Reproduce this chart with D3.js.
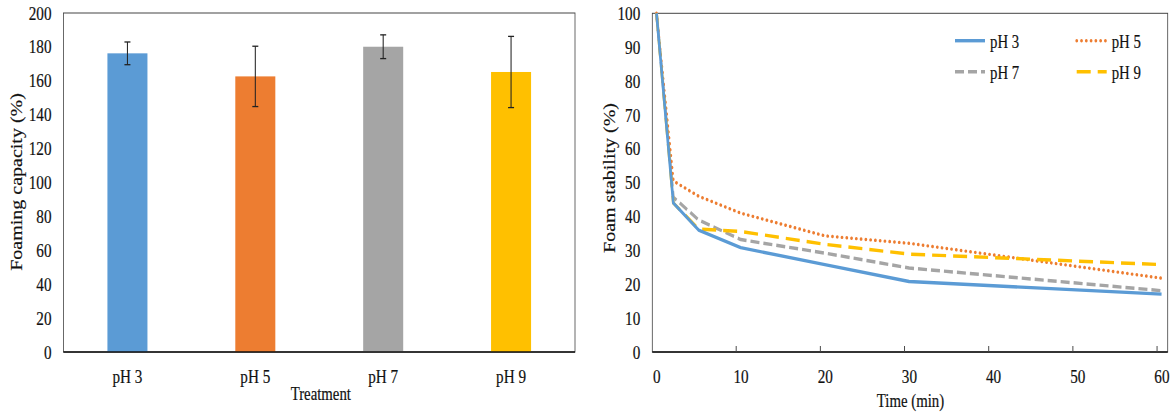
<!DOCTYPE html>
<html>
<head>
<meta charset="utf-8">
<script src="https://cdn.jsdelivr.net/npm/d3@7"></script>
<style>
  body { margin: 0; background: #fff; }
  text { font-family: "Liberation Serif", "Times New Roman", serif; fill: #111; stroke: #111; stroke-width: 0.2px; }
</style>
</head>
<body>
<div id="chart"></div>
<script>
// data
var treatments = ["pH 3", "pH 5", "pH 7", "pH 9"];
var capacity = [176.2, 162.6, 180.1, 165.2];
var capacityErr = [6.7, 17.8, 7.0, 21.0];
var barColors = ["#5B9BD5", "#ED7D31", "#A5A5A5", "#FFC000"];

var times = [0, 2, 5, 10, 20, 30, 60];
var ph3 = [100, 44.0, 36.0, 30.8, 25.8, 20.8, 17.1];
var ph5 = [100, 50.5, 46.0, 41.0, 34.3, 32.1, 21.8];
var ph7 = [100, 45.7, 39.0, 33.2, 29.2, 24.8, 18.1];
var ph9 = [100, 44.0, 36.3, 35.6, 31.8, 28.9, 25.8];
var seriesNames = ["pH 3", "pH 5", "pH 7", "pH 9"];
var seriesColors = ["#5B9BD5", "#ED7D31", "#A5A5A5", "#FFC000"];

var yTicksLeft = [0, 20, 40, 60, 80, 100, 120, 140, 160, 180, 200];
var yTicksRight = [0, 10, 20, 30, 40, 50, 60, 70, 80, 90, 100];
var xTicksRight = [0, 10, 20, 30, 40, 50, 60];

var width = 1176;
var height = 417;
var sx = 0.8; // the picture is squeezed horizontally
function px(x) { return x / sx; }
var fontSize = 18.5;
var tickSize = 19;
var titleSize = 20;

var svg = d3.select("#chart")
  .append("svg")
  .attr("width", width)
  .attr("height", height);

svg.append("rect").attr("width", width).attr("height", height).attr("fill", "#fff");

var root = svg.append("g").attr("transform", "scale(" + sx + ",1)");

/* --- LEFT: foaming capacity bars --- */
var left = { x0: 63.5, x1: 575, top: 13, bottom: 352 };

var xL = d3.scaleBand()
  .domain(treatments)
  .range([px(left.x0), px(left.x1)])
  .paddingInner(0.687)
  .paddingOuter(0.3435);

var yL = d3.scaleLinear()
  .domain([0, 200])
  .range([left.bottom, left.top]);

root.append("rect")
  .attr("x", px(left.x0))
  .attr("y", left.top)
  .attr("width", px(left.x1) - px(left.x0))
  .attr("height", left.bottom - left.top)
  .attr("fill", "none")
  .attr("stroke", "#444")
  .attr("stroke-width", 1);

root.selectAll(".bar")
  .data(treatments)
  .enter()
  .append("rect")
  .attr("class", "bar")
  .attr("x", function (d) { return xL(d); })
  .attr("width", xL.bandwidth())
  .attr("y", function (d, i) { return yL(capacity[i]); })
  .attr("height", function (d, i) { return left.bottom - yL(capacity[i]); })
  .attr("fill", function (d, i) { return barColors[i]; });

// error bars
var err = root.selectAll(".err")
  .data(treatments)
  .enter()
  .append("g")
  .attr("class", "err")
  .attr("stroke", "#222")
  .attr("stroke-width", 1.3);

err.append("line")
  .attr("x1", function (d) { return xL(d) + xL.bandwidth() / 2; })
  .attr("x2", function (d) { return xL(d) + xL.bandwidth() / 2; })
  .attr("y1", function (d, i) { return yL(capacity[i] + capacityErr[i]); })
  .attr("y2", function (d, i) { return yL(capacity[i] - capacityErr[i]); });

[1, -1].forEach(function (s) {
  err.append("line")
    .attr("x1", function (d) { return xL(d) + xL.bandwidth() / 2 - px(3); })
    .attr("x2", function (d) { return xL(d) + xL.bandwidth() / 2 + px(3); })
    .attr("y1", function (d, i) { return yL(capacity[i] + s * capacityErr[i]); })
    .attr("y2", function (d, i) { return yL(capacity[i] + s * capacityErr[i]); });
});

root.append("line")
  .attr("x1", px(left.x0)).attr("x2", px(left.x1))
  .attr("y1", left.bottom).attr("y2", left.bottom)
  .attr("stroke", "#111").attr("stroke-width", 1.3);

var yaxisL = d3.axisLeft(yL).tickValues(yTicksLeft).tickSize(0).tickPadding(px(12));
var gyL = root.append("g")
  .attr("transform", "translate(" + px(left.x0) + ",0)")
  .call(yaxisL);

var xaxisL = d3.axisBottom(xL).tickSize(0).tickPadding(18);
var gxL = root.append("g")
  .attr("transform", "translate(0," + left.bottom + ")")
  .call(xaxisL);

root.append("text")
  .attr("x", px(320.8))
  .attr("y", 400)
  .attr("text-anchor", "middle")
  .text("Treatment");

root.append("text")
  .attr("transform", "translate(" + px(22.4) + ",182) rotate(-90)")
  .attr("text-anchor", "middle")
  .attr("font-size", titleSize)
  .text("Foaming capacity (%)");

/* --- RIGHT: foam stability lines --- */
var right = { x0: 652.3, x1: 1167.7, top: 13.3, bottom: 352 };

var xR = d3.scaleLinear()
  .domain([-0.5, 60.73])
  .range([px(right.x0), px(right.x1)]);

var yR = d3.scaleLinear()
  .domain([0, 100])
  .range([right.bottom, right.top]);

root.append("rect")
  .attr("x", px(right.x0))
  .attr("y", right.top)
  .attr("width", px(right.x1) - px(right.x0))
  .attr("height", right.bottom - right.top)
  .attr("fill", "none")
  .attr("stroke", "#444")
  .attr("stroke-width", 1);

root.append("line")
  .attr("x1", px(right.x0)).attr("x2", px(right.x1))
  .attr("y1", right.bottom).attr("y2", right.bottom)
  .attr("stroke", "#111").attr("stroke-width", 1.3);

// small inside tick marks (sit a bit left of the labels, as in the source)
root.selectAll(".xtick")
  .data(xTicksRight.slice(1))
  .enter()
  .append("line")
  .attr("class", "xtick")
  .attr("x1", function (d) { return xR(d) - px(4.5); })
  .attr("x2", function (d) { return xR(d) - px(4.5); })
  .attr("y1", right.bottom)
  .attr("y2", right.bottom - 6)
  .attr("stroke", "#444")
  .attr("stroke-width", 1.2);

var yaxisR = d3.axisLeft(yR).tickValues(yTicksRight).tickSize(0).tickPadding(px(12));
var gyR = root.append("g")
  .attr("transform", "translate(" + px(right.x0) + ",0)")
  .call(yaxisR);

var xaxisR = d3.axisBottom(xR).tickValues(xTicksRight).tickSize(0).tickPadding(18);
var gxR = root.append("g")
  .attr("transform", "translate(0," + right.bottom + ")")
  .call(xaxisR);

[gyL, gxL, gyR, gxR].forEach(function (g) {
  g.select(".domain").remove();
  g.attr("font-family", null).attr("font-size", null);
  g.selectAll("text").attr("font-size", tickSize).attr("fill", "#111");
});

root.append("text")
  .attr("x", px(910.5))
  .attr("y", 407)
  .attr("text-anchor", "middle")
  .text("Time (min)");

root.append("text")
  .attr("transform", "translate(" + px(615) + ",178) rotate(-90)")
  .attr("text-anchor", "middle")
  .attr("font-size", titleSize)
  .text("Foam stability (%)");

var allSeries = [ph3, ph5, ph7, ph9];
var dashes = [null, "0.1," + px(4.7), px(9) + "," + px(4), px(14) + "," + px(7)];
var widths = [3.4, 3.4, 3.4, 3.4];
var caps = ["butt", "round", "butt", "butt"];

var line = d3.line()
  .x(function (d, i) { return xR(times[i]); })
  .y(function (d) { return yR(d); });

// draw order: grey, orange, yellow, blue on top
[2, 1, 3, 0].forEach(function (k) {
  root.append("path")
    .datum(allSeries[k])
    .attr("fill", "none")
    .attr("stroke", seriesColors[k])
    .attr("stroke-width", widths[k])
    .attr("stroke-linecap", caps[k])
    .attr("stroke-linejoin", "round")
    .attr("stroke-dasharray", dashes[k])
    .attr("d", line);
});

// legend
var legX = [955, 1076.7];
var legY = [40.7, 71.7];
seriesNames.forEach(function (name, k) {
  var lx = legX[k % 2];
  var ly = legY[Math.floor(k / 2)];
  root.append("line")
    .attr("x1", px(lx)).attr("x2", px(lx + 30))
    .attr("y1", ly).attr("y2", ly)
    .attr("stroke", seriesColors[k])
    .attr("stroke-width", widths[k])
    .attr("stroke-linecap", caps[k])
    .attr("stroke-dasharray", dashes[k]);
  root.append("text")
    .attr("x", px(lx + 35))
    .attr("y", ly + 7.5)
    .attr("font-size", fontSize)
    .text(name);
});

root.selectAll("text").filter(function () { return !this.getAttribute("font-size"); })
  .attr("font-size", fontSize);
</script>
</body>
</html>
